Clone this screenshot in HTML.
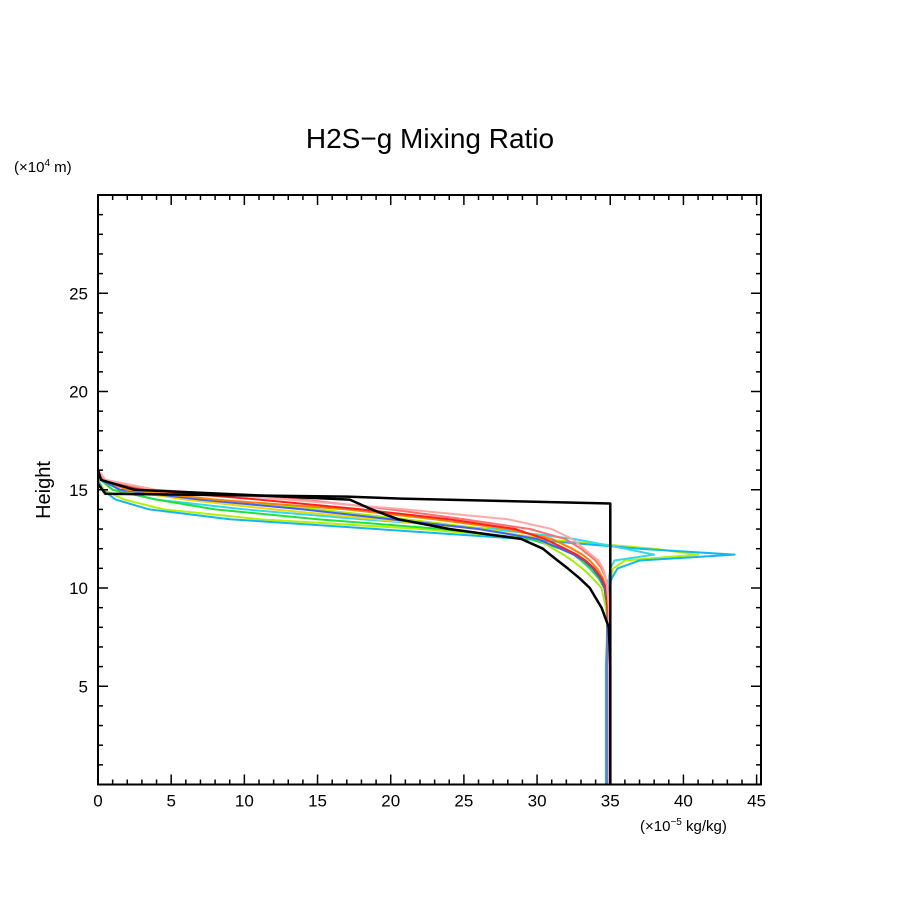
<!DOCTYPE html>
<html><head><meta charset="utf-8"><style>
body{margin:0;background:#fff}
svg text{font-family:"Liberation Sans","DejaVu Sans",sans-serif;fill:#000}
</style></head><body>
<svg id="c" width="904" height="904" viewBox="0 0 904 904">
<text x="430" y="148" font-size="28" text-anchor="middle">H2S−g Mixing Ratio</text>
<text x="14" y="172" font-size="15">(×10<tspan font-size="10" dy="-6">4</tspan><tspan dy="6"> m)</tspan></text>
<text x="640" y="831" font-size="15">(×10<tspan font-size="10" dy="-6">−5</tspan><tspan dy="6"> kg/kg)</tspan></text>
<text transform="translate(50,490) rotate(-90)" font-size="20" text-anchor="middle">Height</text>
<g id="plot"></g>
</svg>
<script>
const xTicks=[0,5,10,15,20,25,30,35,40,45];
const yTicks=[5,10,15,20,25];
const H=[16,15.5,15,14.5,14,13.5,13,12.5,12,11.7,11.4,11,10.5,10,9,8,6,3,0];
const sCyanOuter=[0,0,0.3,1.2,3.5,9,19,29,37,43.5,37,35.5,35.1,34.9,34.8,34.8,34.7,34.7,34.7];
const sYellowGreen=[0,0,0.4,1.8,4.5,11,22,30,38,41,36,35.2,35,34.9,34.8,34.8,34.8,34.8,34.8];
const sCyanMid=[0,0.2,1,4,10,18,27,32.5,36,38,35.3,35,34.9,34.8,34.8,34.8,34.8,34.8,34.8];
const sGreen=[0,0.2,1,4,8,15,23.5,29.5,31.6,32.5,33,33.6,34.2,34.6,34.8,34.8,34.8,34.8,34.8];
const sYellow=[0,0.2,1.5,6,12,19,26,30.5,31.9,32.7,33.3,33.9,34.4,34.7,34.8,34.8,34.8,34.8,34.8];
const sOrange=[0,0.3,2,8,17,23,28,31,32.4,33.1,33.6,34.1,34.5,34.7,34.8,34.9,34.9,34.9,34.9];
const sRed=[0,0.3,3,11,18,24,28.5,30.5,31.9,32.7,33.3,33.9,34.4,34.7,34.8,34.9,34.9,34.9,34.9];
const sPink=[0,0.5,4,13,21,28,31,32.4,33.2,33.7,34.2,34.5,34.7,34.8,34.9,34.9,34.9,34.9,34.9];
const sSalmon=[0,0.5,3.5,14,20,25,29.5,31.9,33,33.5,34,34.4,34.7,34.8,34.9,34.9,34.9,34.9,34.9];
const sLime=[0,0.2,1.5,8,15,21,26.5,30,31.1,31.8,32.4,33.1,33.8,34.4,34.7,34.8,34.8,34.8,34.8];
const sBlue=[0,0.2,1.5,7,14,20,26,30,31.6,32.5,33.2,33.8,34.3,34.6,34.8,34.8,34.8,34.8,34.8];
const sBlack=[0,0.2,2.5,17.2,18.7,20.5,24,28.9,30.4,30.9,31.4,32.1,32.9,33.6,34.4,34.9,35,35,35];
const stepX=[0,0.5,17,20.7,35,35];
const stepH=[15.3,14.8,14.65,14.55,14.3,0];
const NS='http://www.w3.org/2000/svg';
const L=98,R=761,T=195,B=784.5,XMAX=45.3,YMAX=30;
const sx=v=>L+(v/XMAX)*(R-L);
const sy=v=>B-(v/YMAX)*(B-T);
const g=document.getElementById('plot');
function mk(t,a){const e=document.createElementNS(NS,t);for(const k in a)e.setAttribute(k,a[k]);g.appendChild(e);return e;}
function line(xs,hs,color,w,name){
  const d=xs.map((v,i)=>(i?'L':'M')+sx(v).toFixed(1)+','+sy(hs[i]).toFixed(1)).join('');
  const p=mk('path',{d:d,fill:'none',stroke:color,'stroke-width':w,'stroke-linejoin':'round'});
  
  
}
const series=[[sYellowGreen,'#b8f000','series-yellowgreen'],[sCyanOuter,'#10b8f0','series-cyan-outer'],[sCyanMid,'#30d8f0','series-cyan-mid'],[sGreen,'#20e040','series-green'],[sLime,'#a0f000','series-lime'],[sYellow,'#f0d800','series-yellow'],[sBlue,'#4060ff','series-blue'],[sOrange,'#ff8000','series-orange'],[sRed,'#ff2020','series-red'],[sSalmon,'#ff7070','series-salmon'],[sPink,'#ffa8a8','series-pink']];
series.forEach(s=>line(s[0],H,s[1],2,s[2]));
line(sBlack,H,'#000',2.5,'series-black-final');
line(stepX,stepH,'#000',2.5,'series-black-initial');
const f=mk('rect',{x:L,y:T,width:R-L,height:B-T,fill:'none',stroke:'#000','stroke-width':2});


for(let v=0;v<=45;v++){const len=v%5===0?10:5;const x=sx(v);
 mk('line',{x1:x,y1:B,x2:x,y2:B-len,stroke:'#000','stroke-width':1.5});
 mk('line',{x1:x,y1:T,x2:x,y2:T+len,stroke:'#000','stroke-width':1.5});}
for(let v=1;v<YMAX;v++){const len=v%5===0?10:5;const y=sy(v);
 mk('line',{x1:L,y1:y,x2:L+len,y2:y,stroke:'#000','stroke-width':1.5});
 mk('line',{x1:R,y1:y,x2:R-len,y2:y,stroke:'#000','stroke-width':1.5});}
xTicks.forEach(v=>{const t=mk('text',{x:sx(v),y:B+22,'font-size':17,'text-anchor':'middle'});t.textContent=v;
 
 });
yTicks.forEach(v=>{const t=mk('text',{x:L-10,y:sy(v)+6,'font-size':17,'text-anchor':'end'});t.textContent=v;
 
 });
</script>
</body></html>
